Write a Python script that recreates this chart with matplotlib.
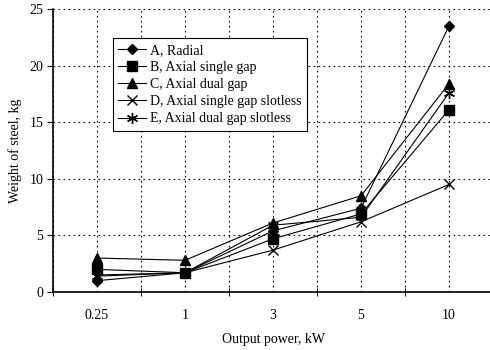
import matplotlib
matplotlib.use("Agg")
import matplotlib.pyplot as plt
import numpy as np

plt.rcParams['font.family'] = ['Liberation Serif', 'DejaVu Serif']

categories = ["0.25", "1", "3", "5", "10"]
series_names = ["A, Radial", "B, Axial single gap", "C, Axial dual gap",
                "D, Axial single gap slotless", "E, Axial dual gap slotless"]
a_radial = [1.0, 1.7, 5.4, 7.4, 23.5]
b_axial_single = [2.0, 1.7, 4.7, 6.9, 16.1]
c_axial_dual = [3.0, 2.8, 6.1, 8.5, 18.4]
d_single_slotless = [1.5, 1.7, 3.7, 6.2, 9.5]
e_dual_slotless = [1.4, 1.7, 5.9, 6.6, 17.6]
y_ticks = [0, 5, 10, 15, 20, 25]

values = [a_radial, b_axial_single, c_axial_dual, d_single_slotless, e_dual_slotless]
markers = ['D', 's', '^', 'x', (6, 2, 0)]
msizes = [5.5, 6.5, 7, 7, 8]

fig = plt.figure(figsize=(4.9, 3.5), dpi=100)
ax = fig.add_axes([53/490, 58/350, 440/490, 283/350])

x = np.arange(len(categories))
for name, vals, m, ms in zip(series_names, values, markers, msizes):
    ax.plot(x, vals, color='black', linewidth=0.8, marker=m, markersize=ms,
            markeredgewidth=1.0, label=name)

ax.set_xlim(-0.5, 4.5)
ax.set_ylim(0, 25)
ax.set_yticks(y_ticks)
ax.set_xticks(np.arange(-0.5, 4.6, 1.0))
ax.set_xticklabels([])
ax.set_xticks(x, minor=True)
ax.set_xticklabels(categories, minor=True)
ax.tick_params(axis='x', which='major', direction='inout', length=6, width=0.8)
ax.tick_params(axis='x', which='minor', length=0, pad=12, labelsize=10)
ax.tick_params(axis='y', direction='out', length=4, width=0.8, labelsize=10, pad=3)

ax.grid(True, which='major', axis='both', linestyle=(0, (1.5, 3)), color='black', linewidth=0.8)
ax.grid(True, which='minor', axis='x', linestyle=(0, (1.5, 3)), color='black', linewidth=0.8)

for s in ['top', 'right']:
    ax.spines[s].set_visible(False)
ax.spines['left'].set_linewidth(1.2)
ax.spines['bottom'].set_linewidth(1.2)

ax.set_xlabel("Output power, kW", fontsize=10, labelpad=8)
ax.set_ylabel("Weight of steel, kg", fontsize=10, labelpad=5)

leg = ax.legend(loc='upper left', bbox_to_anchor=(0.136, 0.897), borderaxespad=0,
                fancybox=False, edgecolor='black', framealpha=1, fontsize=10,
                handlelength=2.0, handletextpad=0.3, labelspacing=0.3,
                borderpad=0.4)
leg.get_frame().set_linewidth(0.8)

fig.savefig("out.png", dpi=100)
